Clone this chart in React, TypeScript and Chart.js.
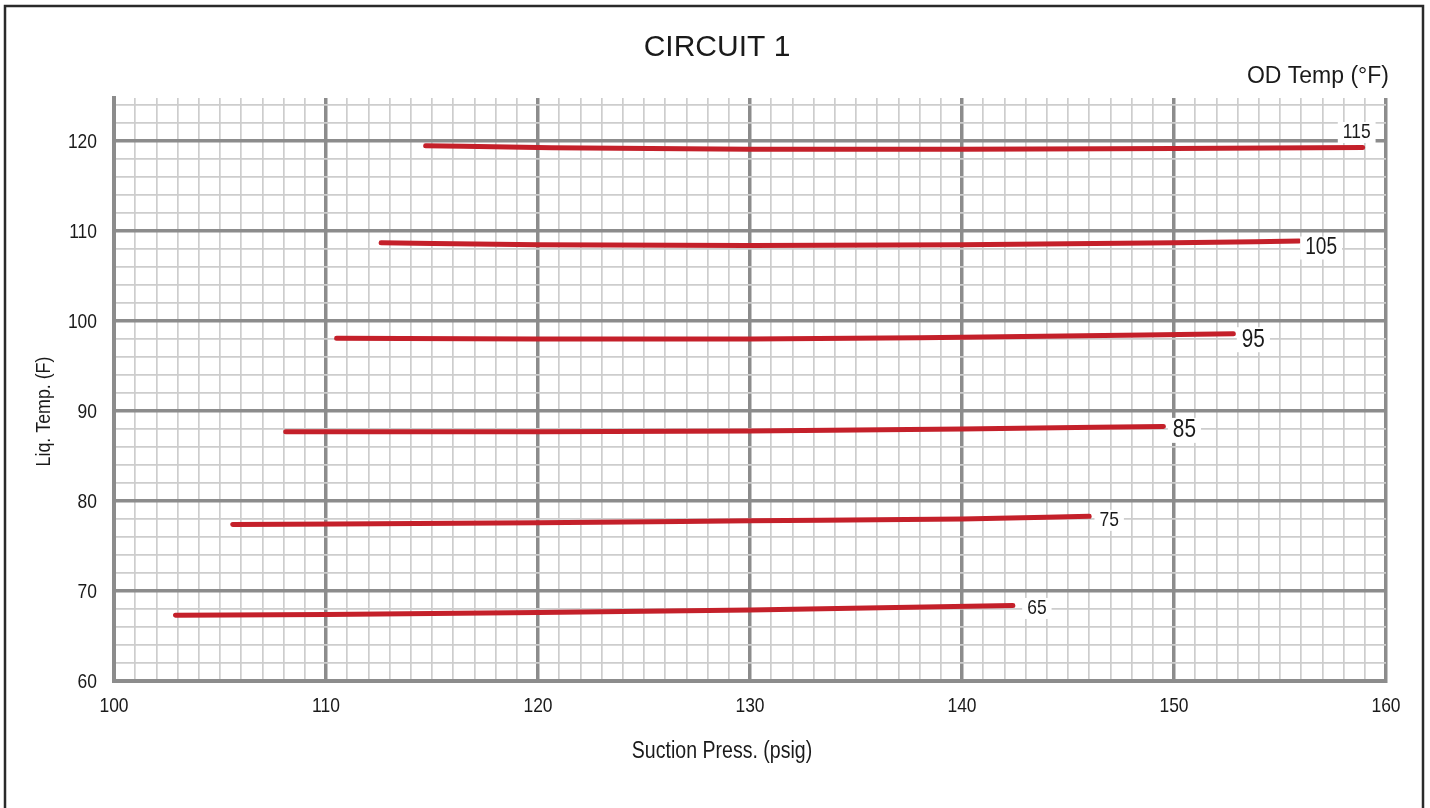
import React, { useEffect, useRef } from "react";
import { Chart, registerables } from "chart.js";

Chart.register(...registerables);

// OD temperature series (labels)
const odTemps = ["115", "105", "95", "85", "75", "65"];

// Suction pressure (psig) / liquid temperature (F) per OD temp
const press115 = [114.7, 120, 130, 140, 150, 158.9];
const liq115 = [119.5, 119.3, 119.1, 119.1, 119.2, 119.3];
const press105 = [112.6, 120, 130, 140, 150, 155.9];
const liq105 = [108.7, 108.5, 108.4, 108.5, 108.7, 108.9];
const press95 = [110.5, 120, 130, 140, 152.8];
const liq95 = [98.1, 98.0, 98.0, 98.2, 98.6];
const press85 = [108.1, 120, 130, 140, 149.5];
const liq85 = [87.7, 87.7, 87.8, 88.0, 88.3];
const press75 = [105.6, 120, 130, 140, 146.0];
const liq75 = [77.4, 77.6, 77.8, 78.0, 78.3];
const press65 = [102.9, 110, 120, 130, 142.4];
const liq65 = [67.3, 67.4, 67.6, 67.9, 68.4];

const seriesPress = [press115, press105, press95, press85, press75, press65];
const seriesLiq = [liq115, liq105, liq95, liq85, liq75, liq65];

const xTickLabels = ["100", "110", "120", "130", "140", "150", "160"];
const yTickLabels = ["60", "70", "80", "90", "100", "110", "120"];

const TITLE = "CIRCUIT 1";
const LEGEND_TITLE = "OD Temp (°F)";
const X_TITLE = "Suction Press. (psig)";
const Y_TITLE = "Liq. Temp. (F)";

const SANS = "'Liberation Sans', Arial, sans-serif";
const RED = "#c4202a";
const MAJOR = "#8c8c8c";
const MINOR = "#cdcdcd";
const TEXT = "#1a1a1a";

const labelStyle: Record<string, { dx: number; dy: number; size: number }> = {
  "115": { dx: -6, dy: -15, size: 21 },
  "105": { dx: 22, dy: 7, size: 23 },
  "95": { dx: 20, dy: 6, size: 25 },
  "85": { dx: 21, dy: 4, size: 25 },
  "75": { dx: 20, dy: 4, size: 21 },
  "65": { dx: 24, dy: 3, size: 21 },
};

function narrowText(
  ctx: CanvasRenderingContext2D,
  text: string,
  x: number,
  y: number,
  size: number,
  align: CanvasTextAlign,
  squeeze = 0.83,
  rotate = 0
) {
  ctx.save();
  ctx.translate(x, y);
  if (rotate) ctx.rotate(rotate);
  ctx.scale(squeeze, 1);
  ctx.font = `${size}px ${SANS}`;
  ctx.textAlign = align;
  ctx.textBaseline = "middle";
  ctx.fillStyle = TEXT;
  ctx.fillText(text, 0, 0);
  ctx.restore();
}

const decorPlugin = {
  id: "decor",
  beforeDraw(chart: any) {
    const ctx = chart.ctx;
    ctx.save();
    ctx.fillStyle = "#ffffff";
    ctx.fillRect(0, 0, chart.width, chart.height);
    ctx.strokeStyle = "#2a2a2a";
    ctx.lineWidth = 2.5;
    ctx.strokeRect(5, 6, 1418, 900);
    ctx.restore();
  },
  afterDatasetsDraw(chart: any) {
    const ctx = chart.ctx;
    ctx.save();
    chart.data.datasets.forEach((ds: any, i: number) => {
      const meta = chart.getDatasetMeta(i);
      const last = meta.data[meta.data.length - 1];
      const name = odTemps[i];
      const st = labelStyle[name];
      const cx = last.x + st.dx;
      const cy = last.y + st.dy;
      ctx.font = `${st.size}px ${SANS}`;
      const w = ctx.measureText(name).width * 0.83;
      ctx.fillStyle = "#ffffff";
      ctx.fillRect(cx - w / 2 - 5, cy - st.size * 0.5, w + 10, st.size * 1.0);
      narrowText(ctx, name, cx, cy, st.size, "center");
    });
    ctx.restore();
  },
  afterDraw(chart: any) {
    const ctx = chart.ctx;
    const area = chart.chartArea;
    const xs = chart.scales.x;
    const ys = chart.scales.y;
    ctx.save();
    // tick labels
    xTickLabels.forEach((t) => {
      narrowText(ctx, t, xs.getPixelForValue(Number(t)), 706, 21, "center");
    });
    yTickLabels.forEach((t) => {
      narrowText(ctx, t, area.left - 17, ys.getPixelForValue(Number(t)) + 1, 21, "right");
    });
    // titles
    ctx.fillStyle = TEXT;
    ctx.textBaseline = "middle";
    ctx.textAlign = "center";
    ctx.font = `30px ${SANS}`;
    ctx.fillText(TITLE, 717, 48);
    ctx.textAlign = "right";
    ctx.font = `23px ${SANS}`;
    ctx.fillText(LEGEND_TITLE, area.right + 3, 77);
    narrowText(ctx, X_TITLE, 722, 752, 23, "center", 0.85);
    narrowText(ctx, Y_TITLE, 44, (area.top + area.bottom) / 2 + 22, 20, "center", 0.89, -Math.PI / 2);
    ctx.restore();
  },
};

export default function App() {
  const ref = useRef<HTMLCanvasElement | null>(null);
  useEffect(() => {
    if (!ref.current) return;
    const datasets = seriesPress.map((px, i) => ({
      label: odTemps[i],
      data: px.map((x, j) => ({ x, y: seriesLiq[i][j] })),
      borderColor: RED,
      borderWidth: 5,
      borderCapStyle: "round" as const,
      pointRadius: 0,
      tension: 0.4,
      cubicInterpolationMode: "monotone" as const,
      fill: false,
    }));
    const gridColor = (c: any) => (c.tick && c.tick.value % 10 === 0 ? MAJOR : MINOR);
    const gridWidth = (c: any) => (c.tick && c.tick.value % 10 === 0 ? 3.5 : 1.7);
    const chart = new Chart(ref.current, {
      type: "line",
      data: { datasets },
      plugins: [decorPlugin],
      options: {
        animation: false,
        responsive: false,
        layout: { padding: { top: 98, right: 44, left: 0, bottom: 0 } },
        plugins: { legend: { display: false }, tooltip: { enabled: false }, title: { display: false } },
        scales: {
          x: {
            type: "linear",
            min: 100,
            max: 160,
            afterFit: (s: any) => {
              s.height = 127;
            },
            afterBuildTicks: (s: any) => {
              const t = [];
              for (let v = 100; v <= 160; v += 1) t.push({ value: v });
              s.ticks = t;
            },
            border: { display: true, color: MAJOR, width: 4 },
            grid: { drawTicks: false, color: gridColor, lineWidth: gridWidth },
            ticks: { display: false, autoSkip: false },
          },
          y: {
            type: "linear",
            min: 60,
            max: 124.8,
            afterFit: (s: any) => {
              s.width = 114;
            },
            afterBuildTicks: (s: any) => {
              const t = [];
              for (let v = 60; v <= 124; v += 2) t.push({ value: v });
              s.ticks = t;
            },
            border: { display: true, color: MAJOR, width: 4 },
            grid: { drawTicks: false, color: gridColor, lineWidth: gridWidth },
            ticks: { display: false, autoSkip: false },
          },
        },
      },
    });
    return () => chart.destroy();
  }, []);
  return (
    <div style={{ position: "absolute", left: 0, top: 0, width: 1430, height: 808, background: "#fff" }}>
      <canvas ref={ref} width={1430} height={808} style={{ display: "block" }} />
    </div>
  );
}
